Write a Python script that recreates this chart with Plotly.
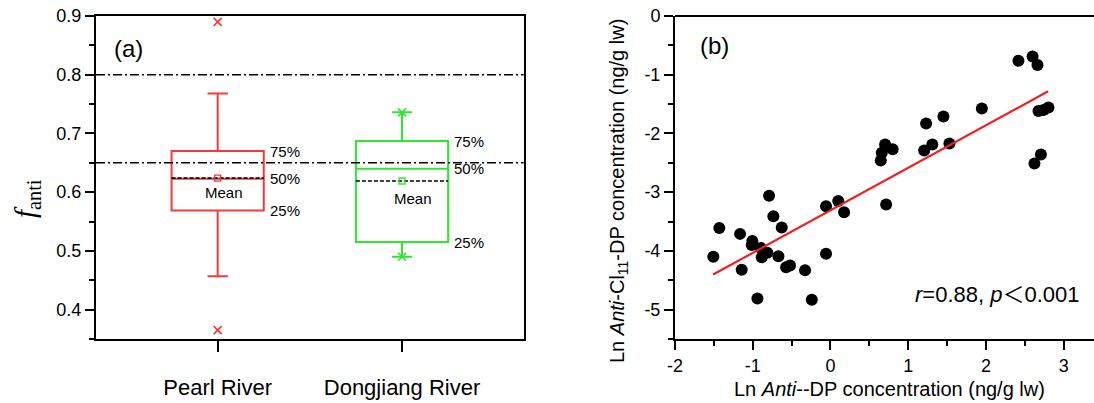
import plotly.graph_objects as go

# ---------------- Panel (a) data ----------------
rivers = ["Pearl River", "Dongjiang River"]
river_pos = [1, 2]
q1 = [0.569, 0.515]
median = [0.623, 0.640]
q3 = [0.670, 0.687]
whisker_low = [0.457, 0.490]
whisker_high = [0.768, 0.736]
mean_vals = [0.624, 0.619]
min_vals = [0.365, 0.490]
max_vals = [0.890, 0.736]
ref_lines = [0.80, 0.65]
box_colors = ["#f23a3a", "#2ee82e"]
y_ticks_a = [0.4, 0.5, 0.6, 0.7, 0.8, 0.9]

# ---------------- Panel (b) data ----------------
ln_anti_dp = [-1.507, -1.43, -1.163, -1.142, -1.005, -1.013, -0.94, -0.897, -0.884, -0.812,
              -0.79, -0.735, -0.67, -0.627, -0.571, -0.52, -0.327, -0.24, -0.057, -0.057,
              0.10, 0.175, 0.716, 0.703, 0.80, 0.66, 0.647, 1.23, 1.453, 1.205,
              1.31, 1.53, 1.947, 2.418, 2.60, 2.663, 2.676, 2.74, 2.804, 2.707, 2.624]
ln_anti_cl11 = [-4.10, -3.61, -3.71, -4.32, -3.83, -3.90, -4.81, -3.95, -4.11, -4.03,
                -3.06, -3.41, -4.09, -3.60, -4.28, -4.25, -4.33, -4.83, -4.05, -3.24,
                -3.15, -3.34, -3.21, -2.19, -2.27, -2.33, -2.46, -1.83, -1.71, -2.29,
                -2.19, -2.17, -1.575, -0.763, -0.69, -0.836, -1.616, -1.60, -1.56, -2.36, -2.51]
fit_slope = 0.724
fit_intercept = -3.31
fit_x = [-1.51, 2.80]
x_ticks_b = [-2, -1, 0, 1, 2, 3]
x_ticktext_b = ["-2", "-1", "0", "1", "2", "3"]
y_ticks_b = [0, -1, -2, -3, -4, -5]
y_ticktext_b = ["0", "-1", "-2", "-3", "-4", "-5"]

W, H = 1094, 403
BOX_W = 0.5
FONT = "Arial, 'Liberation Sans', sans-serif"


def fx(p):
    return p / W


def fy(p):
    return 1 - p / H


fig = go.Figure()

# boxes
for i in range(len(rivers)):
    fig.add_trace(go.Box(
        x=[river_pos[i]], q1=[q1[i]], median=[median[i]], q3=[q3[i]],
        lowerfence=[whisker_low[i]], upperfence=[whisker_high[i]],
        width=BOX_W, whiskerwidth=0.22, boxpoints=False,
        line=dict(color=box_colors[i], width=2), fillcolor="rgba(0,0,0,0)",
        xaxis="x", yaxis="y", showlegend=False, hoverinfo="skip"))
    # mean dashed line
    fig.add_trace(go.Scatter(
        x=[river_pos[i] - BOX_W / 2, river_pos[i] + BOX_W / 2], y=[mean_vals[i], mean_vals[i]],
        mode="lines", line=dict(color="black", width=1.6, dash="4px,2px"),
        xaxis="x", yaxis="y", showlegend=False, hoverinfo="skip"))
    # mean marker
    fig.add_trace(go.Scatter(
        x=[river_pos[i]], y=[mean_vals[i]], mode="markers",
        marker=dict(symbol="square-open", size=6, color=box_colors[i], line=dict(width=1.3)),
        xaxis="x", yaxis="y", showlegend=False, hoverinfo="skip"))
    # min / max markers
    fig.add_trace(go.Scatter(
        x=[river_pos[i], river_pos[i]], y=[min_vals[i], max_vals[i]], mode="markers",
        marker=dict(symbol="x-thin-open", size=8, color=box_colors[i],
                    line=dict(width=1.6, color=box_colors[i])),
        xaxis="x", yaxis="y", showlegend=False, hoverinfo="skip"))

# reference dash-dot lines
shapes = []
for v in ref_lines:
    shapes.append(dict(type="line", xref="x domain", yref="y", x0=0, x1=1, y0=v, y1=v,
                       line=dict(color="black", width=1.6, dash="9px,3px,2px,3px")))

# panel (b)
fig.add_trace(go.Scatter(
    x=ln_anti_dp, y=ln_anti_cl11, mode="markers",
    marker=dict(symbol="circle", size=12, color="black"),
    xaxis="x2", yaxis="y2", showlegend=False, hoverinfo="skip"))
fig.add_trace(go.Scatter(
    x=fit_x, y=[fit_slope * v + fit_intercept for v in fit_x], mode="lines",
    line=dict(color="#ee2020", width=2.2),
    xaxis="x2", yaxis="y2", showlegend=False, hoverinfo="skip"))

shapes.append(dict(type="line", xref="x2 domain", yref="y2 domain", x0=0, x1=1, y0=1, y1=1,
                   line=dict(color="black", width=2)))

ydom = [fy(339), fy(16)]
axis_common = dict(showline=True, linecolor="black", linewidth=2, ticks="outside",
                   tickcolor="black", tickwidth=2, showgrid=False, zeroline=False,
                   automargin=False, tickfont=dict(family=FONT, size=18, color="black"))


def paper_note(text, x, y, size, angle=0, family=FONT):
    return dict(text=text, x=fx(x), y=fy(y), xref="paper", yref="paper", showarrow=False,
                xanchor="center", yanchor="middle", textangle=angle,
                font=dict(family=family, size=size, color="black"))


annotations = [
    paper_note("(a)", 128, 48, 24),
    paper_note("<i>f</i><sub>anti</sub>", 27, 199, 29, -90,
               "'Liberation Serif', 'Times New Roman', serif"),
    paper_note("(b)", 714, 46, 24),
    paper_note("<i>r</i>=0.88, <i>p</i>"
               "<span style=\"font-family:'Noto Sans CJK SC'\">＜</span>0.001", 997, 292, 22),
    paper_note("Ln <i>Anti</i>-Cl<sub>11</sub>-DP concentration (ng/g lw)", 619, 191, 20, -90),
    paper_note("Ln <i>Anti</i>--DP concentration (ng/g lw)", 889, 389, 20),
]

mean_label_dx = [0.034, 0.058]
mean_label_dy = [-0.025, -0.029]
for i in range(len(rivers)):
    annotations.append(dict(text="Mean", xref="x", yref="y", x=river_pos[i] + mean_label_dx[i],
                            y=mean_vals[i] + mean_label_dy[i], showarrow=False,
                            xanchor="center", yanchor="middle",
                            font=dict(family=FONT, size=15, color="black")))
    for val, lab in [(q3[i], "75%"), (median[i], "50%"), (q1[i], "25%")]:
        annotations.append(dict(text=lab, xref="x", yref="y", x=river_pos[i] + BOX_W / 2,
                                y=val, xanchor="left", yanchor="middle", xshift=4,
                                showarrow=False,
                                font=dict(family=FONT, size=15, color="black")))

fig.update_layout(
    width=W, height=H, margin=dict(l=0, r=0, t=0, b=0),
    paper_bgcolor="white", plot_bgcolor="white",
    xaxis=dict(axis_common, domain=[fx(96), fx(523.7)], range=[0.34, 2.66],
               tickvals=river_pos, ticktext=rivers, ticklen=11, mirror=True, anchor="y",
               tickfont=dict(family=FONT, size=22, color="black"), ticklabelstandoff=17),
    yaxis=dict(axis_common, domain=ydom, range=[0.35, 0.9], tickvals=y_ticks_a,
               ticktext=[f"{v:.1f}" for v in y_ticks_a], ticklen=9, mirror=True, anchor="x",
               minor=dict(ticks="outside", ticklen=5, tickwidth=2, tickcolor="black",
                          dtick=0.05, tick0=0.35, showgrid=False)),
    xaxis2=dict(axis_common, domain=[fx(675), 1.0], range=[-2, 3.39], tickvals=x_ticks_b,
                ticktext=x_ticktext_b, ticklen=9, anchor="y2",
                minor=dict(ticks="outside", ticklen=5, tickwidth=2, tickcolor="black",
                           dtick=0.5, tick0=0, showgrid=False)),
    yaxis2=dict(axis_common, domain=ydom, range=[-5.5, 0], tickvals=y_ticks_b,
                ticktext=y_ticktext_b, ticklen=9, anchor="x2",
                minor=dict(ticks="outside", ticklen=5, tickwidth=2, tickcolor="black",
                           dtick=0.5, tick0=0, showgrid=False)),
    shapes=shapes, annotations=annotations, showlegend=False,
)

fig.write_html("out.html", config={"displayModeBar": False},
               post_script="document.body.style.margin='0';document.body.style.overflow='hidden';")
